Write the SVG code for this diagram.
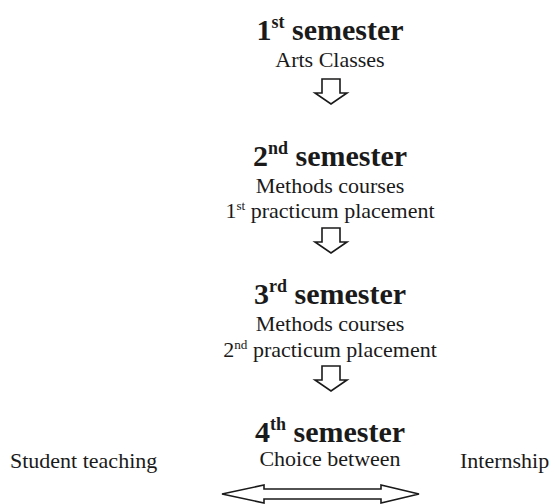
<svg xmlns="http://www.w3.org/2000/svg" width="555" height="504" viewBox="0 0 555 504">
<style>
text{font-family:'Liberation Serif','Times New Roman',serif;fill:#1a1a1a}
.t{font-size:30px;font-weight:bold;text-anchor:middle}
.s{font-size:22px;text-anchor:middle}
.l{font-size:22px}
.sup{font-size:60%}
.a{fill:#fff;stroke:#1a1a1a;stroke-width:1.6;stroke-linejoin:miter}
</style>
<rect width="555" height="504" fill="#fff"/>
<g id="sem1">
<text class="t" x="330" y="40">1<tspan class="sup" dy="-12">st</tspan><tspan dy="12"> semester</tspan></text>
<text class="s" x="330" y="67">Arts Classes</text>
</g>
<g id="sem2">
<text class="t" x="330" y="166">2<tspan class="sup" dy="-12">nd</tspan><tspan dy="12"> semester</tspan></text>
<text class="s" x="330" y="193">Methods courses</text>
<text class="s" x="330" y="218">1<tspan class="sup" dy="-8">st</tspan><tspan dy="8"> practicum placement</tspan></text>
</g>
<g id="sem3">
<text class="t" x="330" y="304">3<tspan class="sup" dy="-12">rd</tspan><tspan dy="12"> semester</tspan></text>
<text class="s" x="330" y="331">Methods courses</text>
<text class="s" x="330" y="357">2<tspan class="sup" dy="-8">nd</tspan><tspan dy="8"> practicum placement</tspan></text>
</g>
<g id="sem4">
<text class="t" x="330" y="442">4<tspan class="sup" dy="-12">th</tspan><tspan dy="12"> semester</tspan></text>
<text class="s" x="330" y="466">Choice between</text>
</g>
<g id="student-teaching"><text class="l" x="10" y="468">Student teaching</text></g>
<g id="internship"><text class="l" x="460" y="468">Internship</text></g>
<g id="connectors">
<path class="a" d="M322,79 H340 V93 H347 L331,104 L315,93 H322 Z"/>
<path class="a" d="M322,228 H340 V242 H347 L331,253 L315,242 H322 Z"/>
<path class="a" d="M322,366 H340 V380 H347 L331,391 L315,380 H322 Z"/>
<path class="a" d="M222,494 L264,485 V489 H381 V485 L419,494 L381,503 V499 H264 V503 Z"/>
</g>
</svg>
